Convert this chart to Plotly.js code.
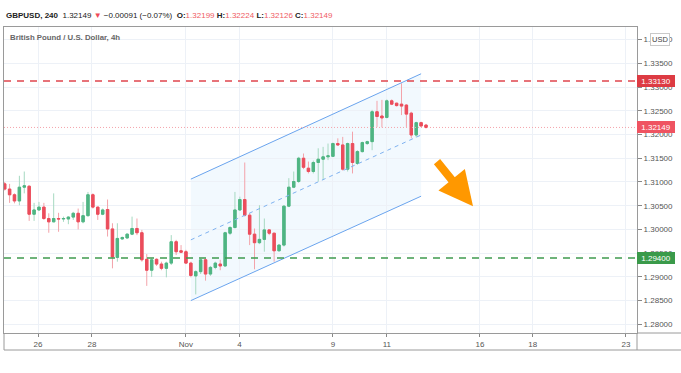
<!DOCTYPE html>
<html><head><meta charset="utf-8">
<script src="https://cdn.plot.ly/plotly-3.0.1.min.js"></script>
<style>html,body{margin:0;padding:0;background:#fff;}#chart{width:681px;height:373px;}</style>
</head><body><div id="chart"></div>
<script>
// ---- data (4h GBPUSD bars) ----
const openP  = [1.3096,1.3085,1.3073,1.3060,1.3089,1.3091,1.3032,1.3041,1.3047,1.3023,
                1.3016,1.3023,1.3022,1.3022,1.3026,1.3034,1.3016,1.3029,1.3073,1.3047,
                1.3032,1.3042,1.3001,1.2941,1.2980,1.2982,1.2990,1.3002,1.2993,1.2937,
                1.2914,1.2937,1.2927,1.2918,1.2929,1.2974,1.2955,1.2953,1.2929,1.2902,
                1.2911,1.2936,1.2906,1.2920,1.2927,1.2923,1.2992,1.3004,1.3041,1.3063,
                1.3030,1.2990,1.2972,1.2979,1.2999,1.2992,1.2955,1.2967,1.3049,1.3089,
                1.3101,1.3150,1.3129,1.3122,1.3141,1.3148,1.3153,1.3154,1.3181,1.3178,
                1.3127,1.3181,1.3139,1.3164,1.3181,1.3185,1.3248,1.3239,1.3236,1.3271,
                1.3266,1.3264,1.3262,1.3245,1.3199,1.3225,1.32199];
const highP  = [1.3100,1.3096,1.3076,1.3113,1.3122,1.3093,1.3056,1.3058,1.3056,1.3034,
                1.3076,1.3035,1.3027,1.3028,1.3037,1.3044,1.3058,1.3079,1.3076,1.3048,
                1.3044,1.3063,1.3013,1.3013,1.2985,1.2992,1.3027,1.3023,1.2999,1.2948,
                1.2939,1.2939,1.2932,1.2932,1.2988,1.2978,1.2967,1.2957,1.2932,1.2914,
                1.2939,1.2939,1.2923,1.2932,1.2936,1.2995,1.3007,1.3079,1.3069,1.3141,
                1.3034,1.3002,1.3051,1.3023,1.3000,1.2993,1.2969,1.3051,1.3108,1.3122,
                1.3153,1.3160,1.3143,1.3145,1.3171,1.3174,1.3181,1.3183,1.3192,1.3195,
                1.3183,1.3206,1.3167,1.3185,1.3187,1.3252,1.3271,1.3273,1.3274,1.3274,
                1.3267,1.3308,1.3264,1.3248,1.3227,1.3227,1.32224];
const lowP   = [1.3082,1.3056,1.3055,1.3051,1.3076,1.3018,1.3018,1.3039,1.3020,1.2993,
                1.3015,1.2995,1.3016,1.3011,1.3020,1.3000,1.3013,1.3027,1.3044,1.3020,
                1.3030,1.2985,1.2918,1.2932,1.2978,1.2981,1.2988,1.2988,1.2932,1.2881,
                1.2900,1.2923,1.2914,1.2899,1.2925,1.2946,1.2950,1.2927,1.2899,1.2863,
                1.2906,1.2892,1.2902,1.2916,1.2914,1.2921,1.2988,1.3002,1.3039,1.3027,
                1.2967,1.2916,1.2969,1.2953,1.2988,1.2932,1.2953,1.2964,1.3047,1.3087,
                1.3098,1.3127,1.3118,1.3118,1.3101,1.3104,1.3146,1.3153,1.3176,1.3124,
                1.3122,1.3118,1.3136,1.3162,1.3178,1.3167,1.3216,1.3215,1.3234,1.3262,
                1.3259,1.3241,1.3216,1.3192,1.3194,1.3216,1.32126];
const closeP = [1.3085,1.3073,1.3060,1.3089,1.3092,1.3032,1.3041,1.3047,1.3023,1.3016,
                1.3023,1.3022,1.3023,1.3026,1.3034,1.3016,1.3029,1.3073,1.3047,1.3032,
                1.3041,1.3001,1.2942,1.2981,1.2983,1.2990,1.3002,1.2993,1.2936,1.2914,
                1.2936,1.2927,1.2918,1.2929,1.2974,1.2953,1.2952,1.2929,1.2903,1.2911,
                1.2936,1.2906,1.2920,1.2929,1.2923,1.2993,1.3004,1.3041,1.3063,1.3030,
                1.2990,1.2972,1.2979,1.2999,1.2992,1.2955,1.2967,1.3049,1.3089,1.3101,
                1.3150,1.3131,1.3122,1.3141,1.3148,1.3153,1.3155,1.3181,1.3178,1.3127,
                1.3181,1.3141,1.3164,1.3183,1.3185,1.3248,1.3238,1.3235,1.3271,1.3264,
                1.3261,1.3260,1.3243,1.3199,1.3225,1.3218,1.32149];

const xTickPos  = [6.8, 17.8, 37.0, 47.9, 67.0, 78.0, 97.0, 107.8, 126.8];
const xTickText = ['26','28','Nov','4','9','11','16','18','23'];
const yTickVals = [1.280,1.285,1.290,1.295,1.300,1.305,1.310,1.315,1.320,1.325,1.330,1.335,1.340];

const resistance = 1.33130;
const support    = 1.29400;
const lastPrice  = 1.32149;

// drawing overlays (parallel channel and arrow), in bar index / price
const channelX     = [38, 85];
const channelUpper = [1.3106, 1.3328];
const channelMid   = [1.2978, 1.3199];
const channelLower = [1.2850, 1.3070];
const arrowFrom    = [88.0, 1.3146];
const arrowTo      = [95.6, 1.3049];

// ---- build ----
const idx = openP.map((_, i) => i);
const bodyHigh = openP.map((o, i) => Math.max(o, closeP[i]));
const bodyLow  = openP.map((o, i) => Math.min(o, closeP[i]));

const UP = '#4fb583', DOWN = '#eb4d5c';
const UPW = '#a6d9c1', DOWNW = '#f3a3aa';

const wicks = {
  type: 'candlestick', x: idx, open: openP, high: highP, low: lowP, close: closeP,
  increasing: {line: {color: UPW, width: 1}, fillcolor: UPW},
  decreasing: {line: {color: DOWNW, width: 1}, fillcolor: DOWNW},
  hoverinfo: 'skip', showlegend: false
};
const bodies = {
  type: 'candlestick', x: idx, open: openP, high: bodyHigh, low: bodyLow, close: closeP,
  increasing: {line: {color: UP, width: 1}, fillcolor: UP},
  decreasing: {line: {color: DOWN, width: 1}, fillcolor: DOWN},
  hoverinfo: 'skip', showlegend: false
};

const FONT = 'Liberation Sans, Arial, sans-serif';
const BORDER = '#9a9a9a';
const GRID = '#edf1f7';

const shapes = [
  {type:'path', xref:'x', yref:'y', layer:'below',
   path:`M ${channelX[0]},${channelLower[0]} L ${channelX[0]},${channelUpper[0]} L ${channelX[1]},${channelUpper[1]} L ${channelX[1]},${channelLower[1]} Z`,
   fillcolor:'rgba(33,150,243,0.06)', line:{width:0}},
  {type:'line', xref:'x', yref:'y', x0:channelX[0], x1:channelX[1], y0:channelUpper[0], y1:channelUpper[1], line:{color:'#6aa4ee', width:1}},
  {type:'line', xref:'x', yref:'y', x0:channelX[0], x1:channelX[1], y0:channelLower[0], y1:channelLower[1], line:{color:'#6aa4ee', width:1}},
  {type:'line', xref:'x', yref:'y', x0:channelX[0], x1:channelX[1], y0:channelMid[0], y1:channelMid[1], line:{color:'#7fb2f0', width:1, dash:'4px,4px'}},
  {type:'line', xref:'paper', yref:'y', x0:0, x1:1, y0:lastPrice, y1:lastPrice, line:{color:'#f4a3ab', width:1, dash:'1px,2px'}},
  {type:'line', xref:'paper', yref:'y', x0:0, x1:1, y0:resistance, y1:resistance, line:{color:'#e0464d', width:1.5, dash:'7px,6px'}},
  {type:'line', xref:'paper', yref:'y', x0:0, x1:1, y0:support, y1:support, line:{color:'#3f9a4f', width:1.5, dash:'7px,6px'}},
  // frame
  {type:'line', xref:'paper', yref:'paper', x0:1, x1:1, y0:0, y1:-0.0556, line:{color:BORDER, width:1}},
  {type:'line', xref:'paper', yref:'paper', x0:0, x1:0, y0:0, y1:-0.0556, line:{color:BORDER, width:1}},
  {type:'line', xref:'paper', yref:'paper', x0:0, x1:1.0695, y0:-0.0556, y1:-0.0556, line:{color:BORDER, width:1}},
  {type:'line', xref:'paper', yref:'paper', x0:1, x1:1.0695, y0:0, y1:0, line:{color:BORDER, width:1}}
];

function priceTag(v, bg) {
  return {xref:'paper', yref:'y', x:1.0, y:v, xanchor:'left', yanchor:'middle', showarrow:false,
    text: v.toFixed(5), font:{family:FONT, size:8, color:'#fff'}, bgcolor:bg, bordercolor:bg,
    borderwidth:1, borderpad:1, width:34, height:8};
}

const hdr = '<b>GBPUSD, 240</b>  1.32149 <span style="color:#ef4b57">▼</span> −0.00091 (−0.07%)  ' +
  '<b>O:</b><span style="color:#ef5b63">1.32199</span> <b>H:</b><span style="color:#ef5b63">1.32224</span> ' +
  '<b>L:</b><span style="color:#ef5b63">1.32126</span> <b>C:</b><span style="color:#ef5b63">1.32149</span>';

const annotations = [
  {xref:'paper', yref:'paper', x:0, y:1.0392, xanchor:'left', yanchor:'middle', showarrow:false,
   text:hdr, font:{family:FONT, size:8, color:'#222'}},
  {xref:'paper', yref:'paper', x:0.0063, y:0.9641, xanchor:'left', yanchor:'middle', showarrow:false,
   text:'<b>British Pound / U.S. Dollar, 4h</b>', font:{family:FONT, size:7.8, color:'#666'}},
  {xref:'paper', yref:'paper', x:1.0363, y:0.959, xanchor:'center', yanchor:'middle', showarrow:false,
   text:'USD', font:{family:FONT, size:7.5, color:'#444'}, bgcolor:'#fff', bordercolor:'#c9c9c9', borderwidth:1, borderpad:1},
  priceTag(resistance, '#dd3b43'),
  priceTag(lastPrice, '#ef5361'),
  priceTag(support, '#3a9a4a'),
  {xref:'x', yref:'y', axref:'x', ayref:'y', x:arrowTo[0], y:arrowTo[1], ax:arrowFrom[0], ay:arrowFrom[1],
   text:'', showarrow:true, arrowhead:2, arrowsize:0.85, arrowwidth:8, arrowcolor:'#ff9800'}
];

const layout = {
  width:681, height:373,
  margin:{l:4, r:44, t:27, b:40, pad:0},
  paper_bgcolor:'#fff', plot_bgcolor:'#fff',
  showlegend:false, dragmode:false,
  font:{family:FONT, color:'#555'},
  xaxis:{range:[-0.14,129.07], tickmode:'array', tickvals:xTickPos, ticktext:xTickText,
    ticks:'outside', ticklen:3, tickcolor:'#888', showgrid:true, gridcolor:GRID, zeroline:false,
    showline:true, linecolor:BORDER, mirror:true, tickfont:{family:FONT, size:8, color:'#555'},
    rangeslider:{visible:false}, fixedrange:true},
  yaxis:{side:'right', range:[1.27817,1.34266], tickmode:'array', tickvals:yTickVals, tickformat:'.5f',
    ticks:'outside', ticklen:4, tickcolor:'#888', showgrid:true, gridcolor:GRID, zeroline:false,
    showline:true, linecolor:BORDER, mirror:true, tickfont:{family:FONT, size:8, color:'#555'}, fixedrange:true},
  shapes: shapes,
  annotations: annotations
};

Plotly.newPlot('chart', [wicks, bodies], layout, {displayModeBar:false, staticPlot:true});
</script></body></html>
